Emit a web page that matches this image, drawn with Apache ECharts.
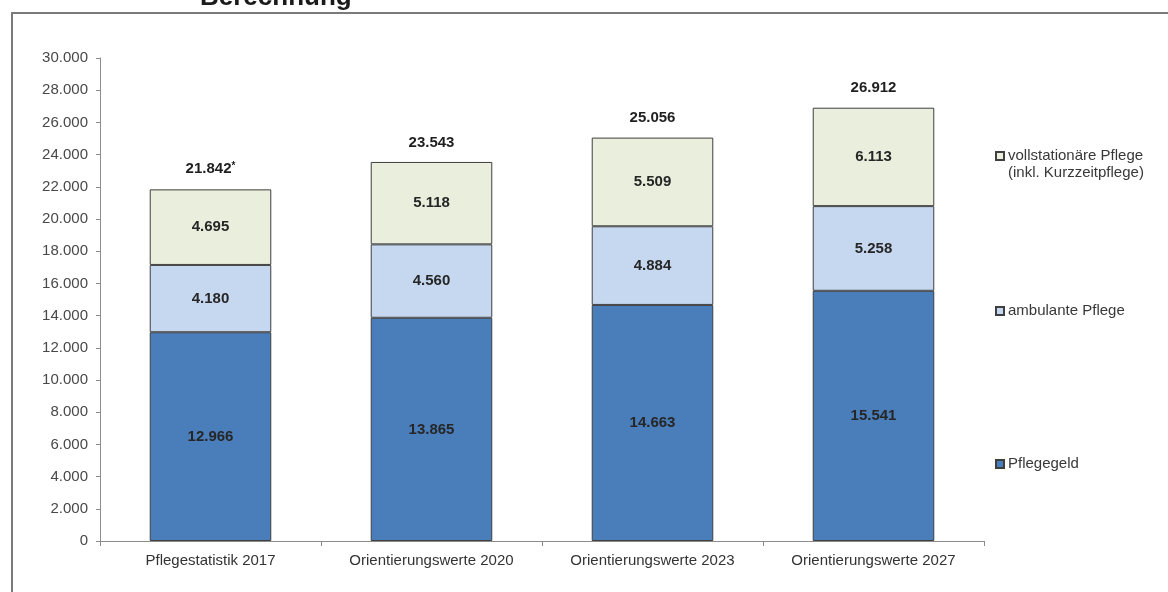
<!DOCTYPE html>
<html>
<head>
<meta charset="utf-8">
<script src="https://cdn.jsdelivr.net/npm/echarts@6/dist/echarts.min.js"></script>
<style>
  html, body { margin: 0; padding: 0; background: #fff; }
  #chart { width: 1168px; height: 592px; }
</style>
</head>
<body>
<div id="chart"></div>
<script>
// Pflegebedürftige nach Leistungsart
const categories = ['Pflegestatistik 2017', 'Orientierungswerte 2020', 'Orientierungswerte 2023', 'Orientierungswerte 2027'];
const pflegegeld = [12966, 13865, 14663, 15541];
const ambulant = [4180, 4560, 4884, 5258];
const vollstationaer = [4695, 5118, 5509, 6113];
const totals = [21842, 23543, 25056, 26912];
const totalNotes = ['*', '', '', ''];
const seriesNames = ['Pflegegeld', 'ambulante Pflege', 'vollstationäre Pflege'];
const legendNote = '(inkl. Kurzzeitpflege)';

// German thousands separator
function fmt(v) {
  return String(Math.round(v)).replace(/\B(?=(\d{3})+(?!\d))/g, '.');
}

const font = 'Liberation Sans, Arial, sans-serif';
const border = '#3f3f3f';

const innerLabel = {
  show: true,
  position: 'inside',
  fontFamily: font,
  fontSize: 15,
  fontWeight: 'bold',
  color: '#262626',
  formatter: p => fmt(p.value)
};

function barSeries(name, data, color) {
  return {
    name: name,
    type: 'bar',
    stack: 'total',
    barWidth: '55%',
    data: data,
    itemStyle: { color: color, borderColor: border, borderWidth: 1 },
    label: innerLabel,
    emphasis: { disabled: true }
  };
}

function legendAt(top, name) {
  return {
    data: [name],
    left: 995,
    top: top,
    padding: 0,
    orient: 'vertical',
    icon: 'rect',
    itemWidth: 8,
    itemHeight: 8,
    itemGap: 0,
    selectedMode: false,
    textStyle: { fontFamily: font, fontSize: 15, color: '#383838', lineHeight: 18, padding: [0, 0, 0, -1] }
  };
}

const chart = echarts.init(document.getElementById('chart'));
chart.setOption({
  animation: false,
  backgroundColor: '#fff',
  grid: { left: 100, right: 184, top: 58, bottom: 51 },
  xAxis: {
    type: 'category',
    data: categories,
    axisLine: { lineStyle: { color: '#8c8c8c', width: 1 } },
    axisTick: { show: true, length: 5, lineStyle: { color: '#8c8c8c' } },
    axisLabel: { fontFamily: font, fontSize: 15, color: '#333', margin: 12 }
  },
  yAxis: {
    type: 'value',
    min: 0,
    max: 30000,
    interval: 2000,
    splitLine: { show: false },
    axisLine: { show: true, lineStyle: { color: '#8c8c8c', width: 1 } },
    axisTick: { show: true, inside: false, length: 4, lineStyle: { color: '#8c8c8c' } },
    axisLabel: { fontFamily: font, fontSize: 15, color: '#484848', margin: 12, formatter: v => fmt(v) }
  },
  legend: [
    legendAt(147, seriesNames[2]),
    legendAt(302, seriesNames[1]),
    legendAt(455, seriesNames[0])
  ],
  series: [
    barSeries(seriesNames[0], pflegegeld, '#4a7ebb'),
    barSeries(seriesNames[1], ambulant, '#c6d8f0'),
    barSeries(seriesNames[2], vollstationaer, '#eaefdd'),
    {
      name: 'Summe',
      type: 'scatter',
      data: totals,
      symbolSize: 0,
      silent: true,
      itemStyle: { opacity: 1 },
      label: {
        show: true,
        position: 'top',
        distance: 12,
        fontFamily: font,
        fontSize: 15,
        fontWeight: 'bold',
        color: '#1f1f1f',
        formatter: p => fmt(p.value) + (totalNotes[p.dataIndex] ? '{n|' + totalNotes[p.dataIndex] + '}' : ''),
        rich: {
          n: { fontFamily: font, fontSize: 10, color: '#1f1f1f', padding: [0, 0, 6, 0] }
        }
      }
    }
  ],
  graphic: [
    {
      type: 'rect',
      shape: { x: 12, y: 13, width: 1200, height: 640 },
      style: { fill: 'none', stroke: '#7a7a7a', lineWidth: 2 },
      silent: true
    },
    {
      type: 'text',
      left: 200,
      top: -15,
      style: { text: 'Berechnung', fontFamily: font, fontSize: 26, fontWeight: 'bold', fill: '#1a1a1a' },
      silent: true
    },
    {
      type: 'text',
      left: 1008,
      top: 165,
      style: { text: legendNote, fontFamily: font, fontSize: 15, fill: '#383838' },
      silent: true
    }
  ]
});
</script>
</body>
</html>
